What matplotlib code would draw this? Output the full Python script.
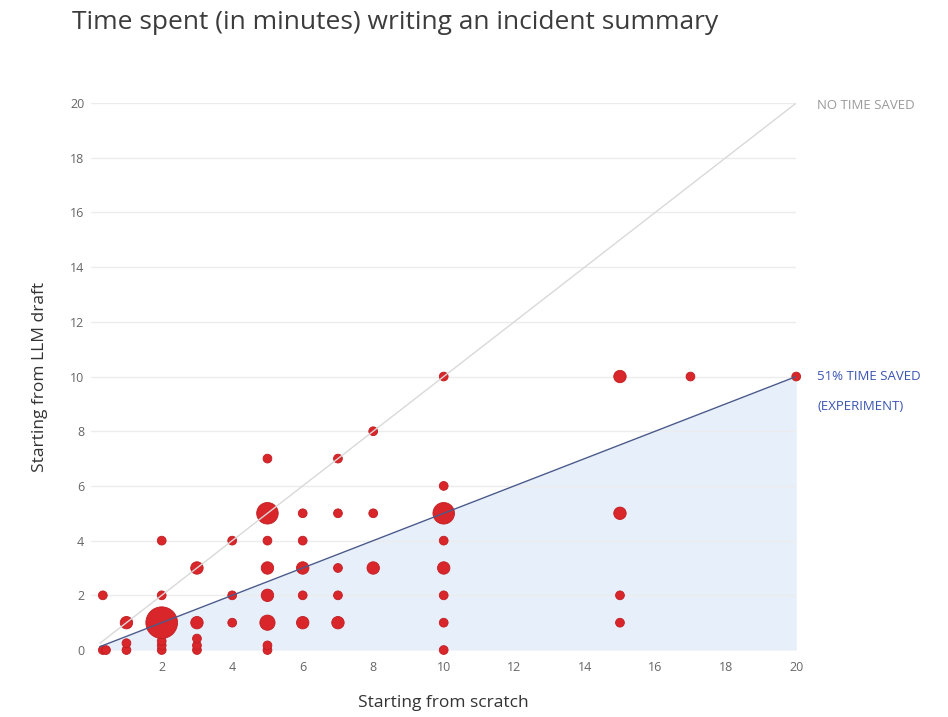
import numpy as np
import matplotlib.pyplot as plt

# minutes spent starting from scratch vs. starting from an LLM draft
scratch = [0.33, 0.42, 0.33,
           1, 1, 1,
           2, 2, 2, 2, 2, 2,
           3, 3, 3, 3, 3,
           4, 4, 4,
           5, 5, 5, 5, 5, 5, 5, 5,
           6, 6, 6, 6, 6,
           7, 7, 7, 7, 7,
           8, 8, 8,
           10, 10, 10, 10, 10, 10, 10, 10,
           15, 15, 15, 15,
           17,
           20]
llm_draft = [0, 0, 2,
             0, 0.25, 1,
             0, 0.17, 0.33, 1, 2, 4,
             0, 0.17, 0.42, 1, 3,
             1, 2, 4,
             0, 0.17, 1, 2, 3, 4, 5, 7,
             1, 2, 3, 4, 5,
             1, 2, 3, 5, 7,
             3, 5, 8,
             0, 1, 2, 3, 4, 5, 6, 10,
             1, 2, 5, 10,
             10,
             10]
counts = [1, 1, 1,
          1, 1, 2,
          1, 1, 1, 13, 1, 1,
          1, 1, 1, 2, 2,
          1, 1, 1,
          1, 1, 3, 2, 2, 1, 6, 1,
          2, 1, 2, 1, 1,
          2, 1, 1, 1, 1,
          2, 1, 1,
          1, 1, 1, 2, 1, 6, 1, 1,
          1, 1, 2, 2,
          1,
          1]

y_ticks = [0, 2, 4, 6, 8, 10, 12, 14, 16, 18, 20]
x_ticks = [2, 4, 6, 8, 10, 12, 14, 16, 18, 20]
saved_ratio = 0.5  # drawn line: 51% time saved

plt.rcParams['font.family'] = ['Open Sans', 'DejaVu Sans']

fig = plt.figure(figsize=(9.48, 7.17), dpi=100)
ax = fig.add_axes([0.0962, 0.0934, 0.7437, 0.7629])

x = np.array(scratch)
y = np.array(llm_draft)
n = np.array(counts)

# trend lines
x_line = np.array([0.25, 20])
ax.fill_between(x_line, 0, x_line * saved_ratio, color='#e7effa', zorder=0, lw=0)
ax.plot(x_line, x_line, color='#d9d9d9', lw=1, zorder=3)
ax.plot(x_line, x_line * saved_ratio, color='#4a5b8c', lw=1, zorder=3)

ax.scatter(x, y, s=40 * n, color='#d8262b', edgecolor='#c01e22', lw=0.6,
           zorder=2, clip_on=False)

ax.set_xlim(0, 20)
ax.set_ylim(0, 20)
ax.set_xticks(x_ticks)
ax.set_yticks(y_ticks)
ax.grid(axis='y', color='#ececec', lw=1)
ax.set_axisbelow(True)
for s in ax.spines.values():
    s.set_visible(False)
ax.tick_params(length=0, labelsize=9, labelcolor='#666666')
ax.tick_params(axis='x', pad=8)
ax.tick_params(axis='y', pad=5)

ax.set_xlabel('Starting from scratch', fontsize=12.5, color='#333333', labelpad=15)
ax.set_ylabel('Starting from LLM draft', fontsize=12.5, color='#333333', labelpad=16)

fig.text(0.076, 0.968, 'Time spent (in minutes) writing an incident summary',
         fontsize=19, color='#3c3c3c', va='center', ha='left')

ax.text(20.6, 19.9, 'NO TIME SAVED', fontsize=9.5, color='#9a9a9a', va='center')
ax.text(20.6, 10, '51% TIME SAVED', fontsize=9.5, color='#3b55b3', va='center')
ax.text(20.6, 8.9, '(EXPERIMENT)', fontsize=9.5, color='#3b55b3', va='center')

plt.savefig('out.png', dpi=100)
